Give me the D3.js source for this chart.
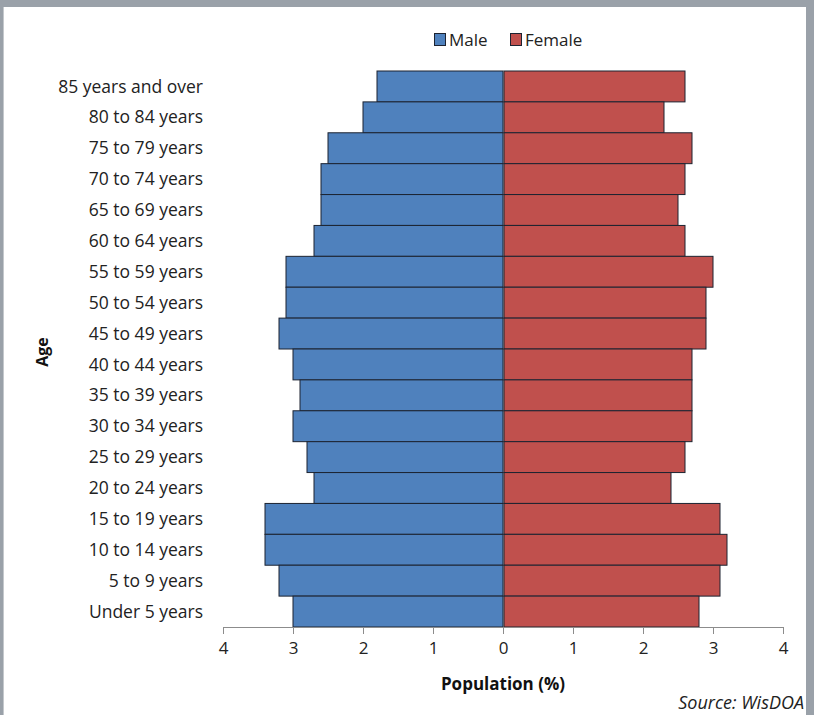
<!DOCTYPE html>
<html>
<head>
<meta charset="utf-8">
<script src="https://cdn.jsdelivr.net/npm/d3@7"></script>
<style>
  html, body { margin: 0; padding: 0; background: #9aa1a9; }
  svg { display: block; }
</style>
</head>
<body>
<svg id="chart" width="814" height="715"></svg>
<script>
// Age groups, top to bottom
const ageGroups = [
  "85 years and over", "80 to 84 years", "75 to 79 years", "70 to 74 years",
  "65 to 69 years", "60 to 64 years", "55 to 59 years", "50 to 54 years",
  "45 to 49 years", "40 to 44 years", "35 to 39 years", "30 to 34 years",
  "25 to 29 years", "20 to 24 years", "15 to 19 years", "10 to 14 years",
  "5 to 9 years", "Under 5 years"
];
// Share of total population (%)
const maleValues = [1.8, 2.0, 2.5, 2.6, 2.6, 2.7, 3.1, 3.1, 3.2, 3.0, 2.9, 3.0, 2.8, 2.7, 3.4, 3.4, 3.2, 3.0];
const femaleValues = [2.6, 2.3, 2.7, 2.6, 2.5, 2.6, 3.0, 2.9, 2.9, 2.7, 2.7, 2.7, 2.6, 2.4, 3.1, 3.2, 3.1, 2.8];
const tickValues = [-4, -3, -2, -1, 0, 1, 2, 3, 4];
const seriesNames = ["Male", "Female"];
const colors = { Male: "#4f81bd", Female: "#c0504d" };

const font = "'Open Sans', 'Noto Sans', sans-serif";
const svg = d3.select("#chart");

// panel
svg.append("rect").attr("x", 4).attr("y", 7).attr("width", 802).attr("height", 708).attr("fill", "#ffffff");
svg.append("line").attr("x1", 3.5).attr("x2", 3.5).attr("y1", 7).attr("y2", 715).attr("stroke", "#c4c8cc").attr("stroke-width", 1);

const plot = { left: 223, right: 783, top: 71, bottom: 627 };

const x = d3.scaleLinear().domain([-4, 4]).range([plot.left, plot.right]);
const y = d3.scaleBand().domain(ageGroups).range([plot.top, plot.bottom]).padding(0);

const rows = ageGroups.map((g, i) => ({ group: g, male: maleValues[i], female: femaleValues[i] }));

// bars
const barStroke = "#1c2331";
svg.append("g").selectAll("rect").data(rows).join("rect")
  .attr("x", d => x(-d.male))
  .attr("y", d => y(d.group))
  .attr("width", d => x(0) - x(-d.male))
  .attr("height", y.bandwidth())
  .attr("fill", colors.Male)
  .attr("stroke", barStroke).attr("stroke-width", 1);

svg.append("g").selectAll("rect").data(rows).join("rect")
  .attr("x", x(0) + 1)
  .attr("y", d => y(d.group))
  .attr("width", d => x(d.female) - x(0) - 1)
  .attr("height", y.bandwidth())
  .attr("fill", colors.Female)
  .attr("stroke", barStroke).attr("stroke-width", 1);

// x axis
const xAxis = d3.axisBottom(x)
  .tickValues(tickValues)
  .tickFormat(d => Math.abs(d))
  .tickSize(7)
  .tickPadding(8);
const gx = svg.append("g").attr("transform", `translate(0,${plot.bottom})`).call(xAxis);
gx.select(".domain").attr("stroke", "#8c8c8c").attr("d", `M${plot.left},0.5H${plot.right}`);
gx.selectAll(".tick line").attr("stroke", "#8c8c8c");
gx.selectAll(".tick text").attr("font-family", font).attr("font-size", 17).attr("fill", "#222");

// category labels
svg.append("g").selectAll("text").data(ageGroups).join("text")
  .attr("x", 203)
  .attr("y", d => y(d) + y.bandwidth() / 2)
  .attr("dy", "0.35em")
  .attr("text-anchor", "end")
  .attr("font-family", font).attr("font-size", 17.5).attr("fill", "#222")
  .text(d => d);

// axis titles
svg.append("text")
  .attr("x", x(0)).attr("y", 690)
  .attr("text-anchor", "middle")
  .attr("font-family", font).attr("font-size", 17).attr("font-weight", "bold").attr("fill", "#111")
  .text("Population (%)");

svg.append("text")
  .attr("transform", "translate(48,352) rotate(-90)")
  .attr("text-anchor", "middle")
  .attr("font-family", font).attr("font-size", 16).attr("font-weight", "bold").attr("fill", "#111")
  .text("Age");

// legend
const legend = svg.append("g").attr("transform", "translate(434,33)");
const legendX = [0, 76];
seriesNames.forEach((name, i) => {
  const g = legend.append("g").attr("transform", `translate(${legendX[i]},0)`);
  g.append("rect").attr("x", 0.5).attr("y", 0.5).attr("width", 11).attr("height", 12)
    .attr("fill", colors[name]).attr("stroke", barStroke).attr("stroke-width", 1);
  g.append("text").attr("x", 15).attr("y", 7).attr("dy", "0.35em")
    .attr("font-family", font).attr("font-size", 17).attr("fill", "#222")
    .text(name);
});

// source note
svg.append("text")
  .attr("x", 804).attr("y", 709)
  .attr("text-anchor", "end")
  .attr("font-family", font).attr("font-size", 18).attr("font-style", "italic").attr("fill", "#222")
  .text("Source: WisDOA");

// right frame edge
svg.append("rect").attr("x", 806).attr("y", 0).attr("width", 8).attr("height", 715).attr("fill", "#9aa1a9");
</script>
</body>
</html>
